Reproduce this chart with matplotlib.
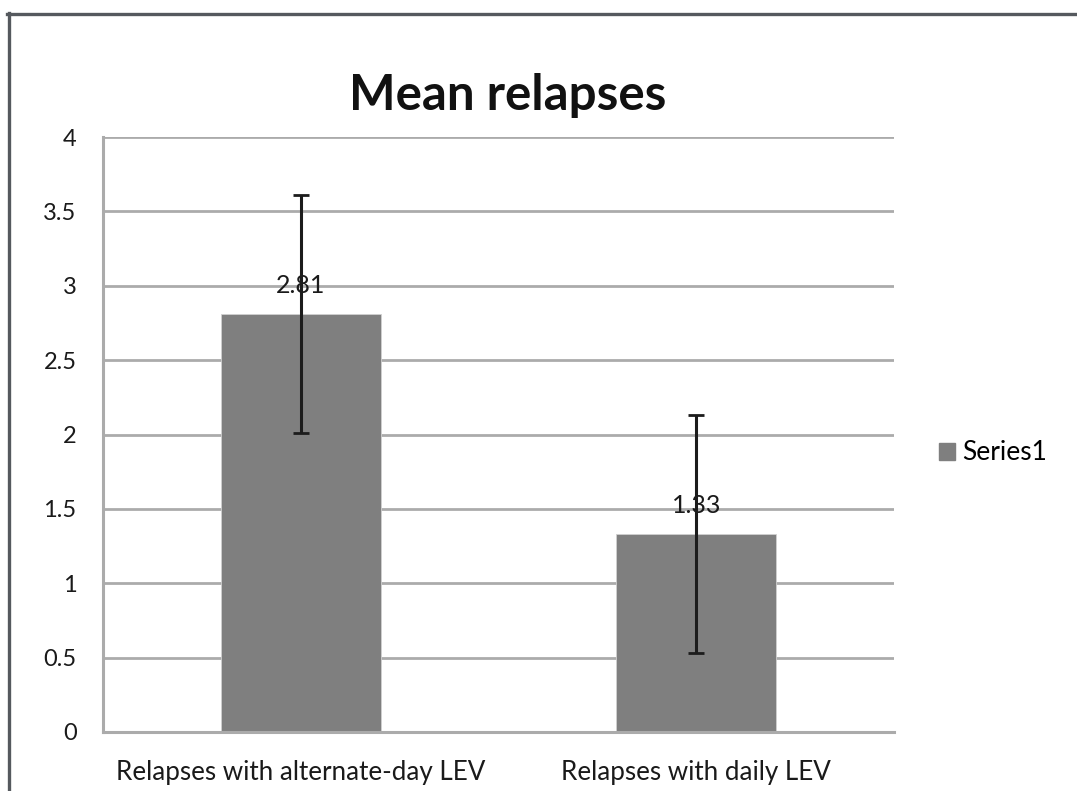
import matplotlib
matplotlib.use("Agg")
import matplotlib.pyplot as plt
from matplotlib.lines import Line2D
from matplotlib.patches import Patch

categories = ["Relapses with alternate-day LEV", "Relapses with daily LEV"]
means = [2.81, 1.33]
errors = [0.80, 0.80]
value_labels = ["2.81", "1.33"]
yticks = [0, 0.5, 1, 1.5, 2, 2.5, 3, 3.5, 4]
ytick_labels = ["0", "0.5", "1", "1.5", "2", "2.5", "3", "3.5", "4"]
series_name = "Series1"
title = "Mean relapses"

FONT = "Lato"
plt.rcParams["font.family"] = [FONT, "DejaVu Sans"]

W, H = 1077, 791
fig = plt.figure(figsize=(W / 100, H / 100), dpi=100)
fig.patch.set_facecolor("white")

ax = fig.add_axes([103 / W, 1 - 732 / H, (894 - 103) / W, (732 - 137) / H])
x = list(range(len(categories)))
bar_color = "#7f7f7f"
grid_color = "#ababab"

ax.bar(x, means, width=0.405, color=bar_color, edgecolor="#d0d0d0", linewidth=0.6, zorder=2)
ax.errorbar(x, means, yerr=errors, fmt="none", ecolor="#1c1c1c", elinewidth=2.2,
            capsize=5.5, capthick=2.0, zorder=5)
for xi, m, lab in zip(x, means, value_labels):
    ax.annotate(lab, (xi, m), xytext=(0, 20.5), textcoords="offset points",
                ha="center", va="center", fontsize=18, color="#1a1a1a", zorder=3)

ax.set_xlim(-0.5, 1.5)
ax.set_ylim(0, 4)
ax.set_yticks(yticks)
ax.set_yticklabels(ytick_labels)
ax.set_xticks(x)
ax.set_xticklabels(categories)
ax.tick_params(axis="y", length=0, pad=19, labelsize=17, labelcolor="#1a1a1a")
ax.tick_params(axis="x", length=0, pad=20, labelsize=18.7, labelcolor="#1a1a1a")
ax.yaxis.grid(True, color=grid_color, linewidth=2.0, zorder=0)
ax.set_axisbelow(True)
for s in ["top", "right"]:
    ax.spines[s].set_visible(False)
for s in ["left", "bottom"]:
    ax.spines[s].set_color(grid_color)
    ax.spines[s].set_linewidth(2.2)

fig.text(508 / W, 1 - 110 / H, title, ha="center", va="baseline",
         fontsize=35.5, fontweight="bold", color="#111111")

handle = Patch(facecolor=bar_color, edgecolor=bar_color)
fig.legend([handle], [series_name], loc="center left",
           bbox_to_anchor=(939 / W, 1 - 453 / H), frameon=False,
           fontsize=19, handlelength=0.6, handleheight=0.6,
           handletextpad=0.28, borderpad=0, borderaxespad=0)

# figure frame (chart border)
fig.add_artist(Line2D([8.5 / W, 8.5 / W], [0, 1 - 13 / H], transform=fig.transFigure,
                      color="#55595e", linewidth=2.4))
fig.add_artist(Line2D([7 / W, 1], [1 - 13.5 / H, 1 - 13.5 / H], transform=fig.transFigure,
                      color="#55595e", linewidth=2.4))

fig.savefig("out.png", dpi=100, facecolor="white")
